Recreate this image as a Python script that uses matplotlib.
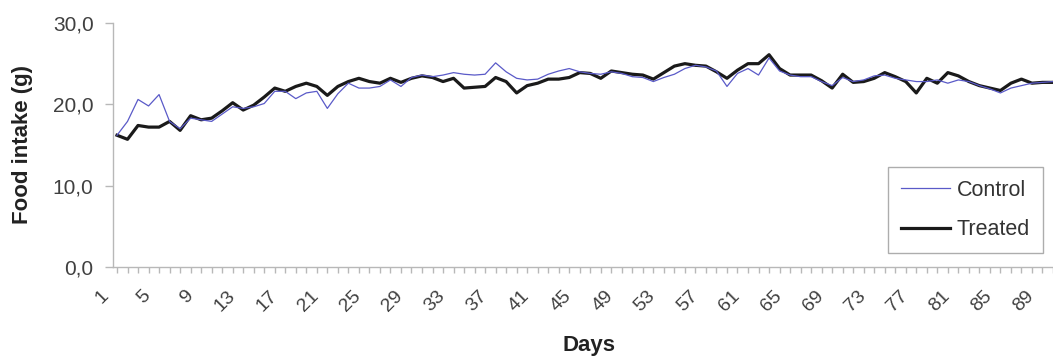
import matplotlib
matplotlib.use("Agg")
import matplotlib.pyplot as plt
from matplotlib.ticker import FuncFormatter
from matplotlib.transforms import ScaledTranslation

days = list(range(1, 91))
control = [16.2, 17.9, 20.6, 19.8, 21.2, 17.9, 17.0, 18.3, 18.1, 17.9,
           18.8, 19.7, 19.5, 19.7, 20.1, 21.6, 21.6, 20.7, 21.4, 21.6,
           19.5, 21.3, 22.6, 22.0, 22.0, 22.2, 23.0, 22.2, 23.3, 23.6,
           23.4, 23.6, 23.9, 23.7, 23.6, 23.7, 25.1, 24.0, 23.2, 23.0,
           23.1, 23.7, 24.1, 24.4, 24.0, 23.8, 23.7, 24.0, 23.8, 23.4,
           23.3, 22.8, 23.3, 23.7, 24.4, 24.8, 24.6, 24.1, 22.2, 23.8,
           24.4, 23.6, 25.7, 24.1, 23.6, 23.4, 23.4, 22.8, 22.3, 23.3,
           22.8, 23.0, 23.5, 23.6, 23.2, 23.0, 22.8, 22.8, 23.0, 22.6,
           23.0, 22.8, 22.3, 21.9, 21.4, 22.0, 22.3, 22.6, 22.7, 22.8]
treated = [16.2, 15.7, 17.4, 17.2, 17.2, 17.9, 16.8, 18.6, 18.1, 18.3,
           19.2, 20.2, 19.3, 19.9, 20.9, 22.0, 21.6, 22.2, 22.6, 22.2,
           21.1, 22.2, 22.8, 23.2, 22.8, 22.6, 23.2, 22.7, 23.2, 23.5,
           23.3, 22.8, 23.2, 22.0, 22.1, 22.2, 23.3, 22.8, 21.4, 22.3,
           22.6, 23.1, 23.1, 23.3, 23.9, 23.8, 23.2, 24.1, 23.9, 23.7,
           23.6, 23.1, 23.9, 24.7, 25.0, 24.8, 24.7, 24.0, 23.2, 24.2,
           25.0, 25.0, 26.1, 24.4, 23.6, 23.6, 23.6, 22.9, 22.0, 23.7,
           22.7, 22.8, 23.2, 23.9, 23.4, 22.8, 21.4, 23.2, 22.6, 23.9,
           23.5, 22.8, 22.3, 22.0, 21.7, 22.6, 23.1, 22.6, 22.7, 22.7]
x_tick_days = list(range(1, 90, 4))
y_ticks = [0, 10, 20, 30]

plt.rcParams['font.family'] = ['Liberation Sans', 'DejaVu Sans']

W, H = 1053, 356
fig = plt.figure(figsize=(W / 100, H / 100), dpi=100)
ax = fig.add_axes([113 / W, (H - 267) / H, (W - 113) / W, (267 - 23) / H])

ax.plot(days, control, color='#5a5ac8', lw=0.9, label='Control', zorder=3)
ax.plot(days, treated, color='#1a1a1a', lw=2.3, label='Treated', zorder=2)

ax.set_ylim(0, 30)
ax.set_xlim(0.62, 89.64)
ax.set_yticks(y_ticks)
ax.yaxis.set_major_formatter(FuncFormatter(lambda v, p: f"{v:.1f}".replace('.', ',')))
ax.set_xticks(x_tick_days)
ax.set_xticklabels([str(d) for d in x_tick_days])
ax.set_xticks(days, minor=True)

for s in ['top', 'right']:
    ax.spines[s].set_visible(False)
for s in ['left', 'bottom']:
    ax.spines[s].set_color('#b8b8b8')
    ax.spines[s].set_linewidth(1.0)

ax.tick_params(axis='y', direction='out', length=6, width=1, color='#b8b8b8',
               labelsize=15, labelcolor='#404040', pad=8)
ax.tick_params(axis='x', which='both', direction='out', length=4, width=1,
               color='#b8b8b8', labelsize=14, labelcolor='#404040', pad=15)

off = ScaledTranslation(-11 / 100, 0, fig.dpi_scale_trans)
for lab in ax.get_xticklabels():
    lab.set_rotation(45)
    lab.set_ha('right')
    lab.set_va('center')
    lab.set_rotation_mode('anchor')
    lab.set_transform(lab.get_transform() + off)

fig.text(23 / W, 1 - 145 / H, 'Food intake (g)', rotation=90, ha='center', va='center',
         fontsize=16, fontweight='bold', color='#222222')
fig.text(589 / W, 1 - 346 / H, 'Days', ha='center', va='center',
         fontsize=16, fontweight='bold', color='#222222')

leg = ax.legend(loc='upper left', bbox_to_anchor=(888 / W, 1 - 167 / H),
                bbox_transform=fig.transFigure, borderaxespad=0, fontsize=15.5,
                frameon=True, fancybox=False, edgecolor='#999999',
                handlelength=2.3, handletextpad=0.3, labelspacing=0.85,
                borderpad=0.6)
leg.get_frame().set_linewidth(1.0)
for t in leg.get_texts():
    t.set_color('#333333')

fig.savefig('out.png', dpi=100)
